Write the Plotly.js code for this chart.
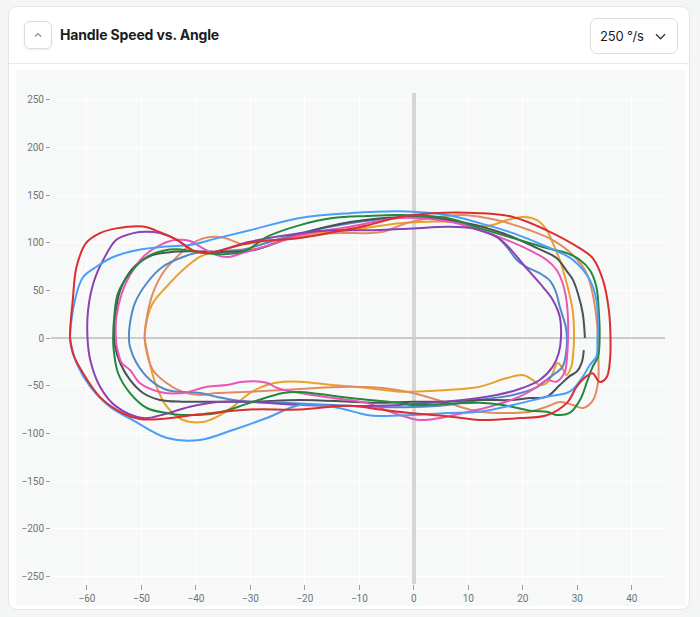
<!DOCTYPE html>
<html>
<head>
<meta charset="utf-8">
<script src="https://cdn.plot.ly/plotly-3.0.1.min.js"></script>
<style>
  html, body { margin: 0; padding: 0; width: 700px; height: 617px; background: #f4f5f5; overflow: hidden; font-family: Inter, "Noto Sans", sans-serif; }
  .card { position: absolute; left: 8px; top: 6px; width: 682px; height: 604px; background: #fff; border: 1px solid #e4e6e6; border-radius: 9px; box-sizing: border-box; }
  .divider { position: absolute; left: 0; right: 0; top: 56px; height: 1px; background: #e8e9e9; }
  .btn { position: absolute; left: 15px; top: 14px; width: 28px; height: 28px; border: 1px solid #dadcdc; border-radius: 6px; box-sizing: border-box; box-shadow: 0 1px 2px rgba(0,0,0,0.08); }
  .btn svg { position: absolute; left: 8px; top: 8px; }
  .title { position: absolute; left: 51px; top: 19px; font-size: 14px; font-weight: 700; color: #1b1d1f; letter-spacing: -0.15px; }
  .dd { position: absolute; left: 581px; top: 11px; width: 88px; height: 36px; border: 1px solid #dcdede; border-radius: 7px; box-sizing: border-box; }
  .dd span { position: absolute; left: 9px; top: 9px; font-size: 13px; color: #1b1d1f; letter-spacing: -0.2px; }
  .dd svg { position: absolute; left: 64px; top: 14px; }
  #plot { position: absolute; left: 16px; top: 70px; width: 670px; height: 536px; }
</style>
</head>
<body>
<div class="card">
  <div class="btn"><svg width="10" height="10" viewBox="0 0 10 10"><polyline points="2,6.5 5,3.5 8,6.5" fill="none" stroke="#888" stroke-width="1.1"/></svg></div>
  <div class="title">Handle Speed vs. Angle</div>
  <div class="dd"><span>250 °/s</span><svg width="11" height="7" viewBox="0 0 11 7"><polyline points="1,1.2 5.5,5.8 10,1.2" fill="none" stroke="#333" stroke-width="1.3"/></svg></div>
  <div class="divider"></div>
</div>
<div id="plot"></div>
<script>
// Handle angle (deg) and handle speed (deg/s) for each swing loop
const redAngle = [-63.1,-62.6,-61.9,-60.1,-57.6,-54.6,-49.7,-46.6,-43.5,-40.6,-38,-30.1,-20.9,-14.9,-8.6,-2.6,3.5,12.1,18.2,24.4,30.5,32.8,34.7,35.8,36.1,36,35.4,34.1,32.8,31.7,29.9,28.1,24.4,19.4,12.1,6.1,-0.2,-6.2,-11.7,-20.9,-30.1,-39.3,-46.6,-50.3,-53.4,-57.6,-60.7,-62.6,-63.1];
const redSpeed = [0,40,75,100,110,115,117,111,103,92,89,100,105,111,118,127,131,131,127,113,94,84,61,29,0,-23,-41,-46,-37,-40,-51,-68,-81,-84,-86,-82,-79,-75,-71,-75,-75,-80,-85,-85,-79,-62,-37,-16,0];

const blueAngle = [-63.1,-62.2,-60.7,-58.2,-55.2,-50.9,-45.4,-41.1,-36.2,-30.1,-20.9,-11.7,-2.6,6.1,12.1,18.2,24.4,29.2,32.3,33.5,33.8,33.7,33.5,32.3,31,28.6,24.4,18.2,12.1,6.1,-0.2,-6.2,-8.6,-14.9,-20.9,-27,-33.2,-39.3,-45.3,-51.6,-55.8,-59.4,-61.9,-62.8,-63.1];
const blueSpeed = [0,40,64,75,85,92,96,97.5,104.5,113,126,131,133,129,120.5,110,95.7,82,61,40,12,0,-19.6,-28.3,-40.6,-56.3,-61.5,-70.2,-77.3,-78.6,-80.7,-81.8,-80.7,-72,-70.2,-83.9,-96.4,-107,-104.8,-86,-72,-51,-26.5,-9,0];

const purpleAngle = [-59.9,-59.8,-58.8,-57,-54.6,-51.5,-49,-46.6,-43.5,-40.6,-38,-30.1,-20.9,-14.9,-8.6,-0.2,6.1,10.8,15.2,17.6,20.7,23.7,25.5,26.8,27,26.6,25.5,23.1,19.4,15.2,9,2.9,-2.6,-11.7,-20.9,-30.1,-36.1,-41.1,-45.7,-49.7,-54.6,-57.6,-59.4,-59.9];
const purpleSpeed = [0,29,58,82,103,110,111.4,110,103,92,89,101,110,113,113,115,116.7,115,106,94,73,53.5,40,22,0,-15.7,-30,-44,-53.5,-59.7,-65,-68,-70.2,-71.3,-70.2,-67,-67,-72,-79.7,-84,-72,-51,-23,0];

const pinkAngle = [-54.7,-54.6,-53.6,-52.1,-49.7,-46.6,-43.5,-41.1,-38.7,-36.2,-34.1,-31,-26.4,-20.9,-11.7,-2.6,6.6,12.1,17.1,21.3,24.4,26.2,27.3,28,28.3,28.3,28.1,27.7,26.2,24.4,22.6,19.4,13.9,9,4.8,1.1,-2.6,-6.2,-8.6,-14.9,-20.9,-25.1,-27,-31.4,-34.3,-38,-42.4,-46.6,-50.3,-52.1,-53.6,-54.5,-54.7];
const pinkSpeed = [0,22,47,66,85,97.5,103,101.7,94,87,85,90,97.5,108,116.7,125.8,122,113,102.7,92,81.8,71.3,57.7,40,19,0,-21,-35.6,-45.8,-44,-51.4,-61.5,-72,-78.6,-83.9,-86,-80.7,-73.4,-68,-63,-57.7,-52.4,-47,-45.8,-49.3,-51,-57.7,-56.6,-47.2,-33.5,-26.2,-9.4,0];

const greenAngle = [-55.2,-55,-54.3,-52.1,-49,-46,-43.5,-40.6,-38,-34.4,-30.7,-27,-20.9,-14.9,-8.6,-2.6,6.1,12.1,18.2,24.4,28.1,30.5,32.3,33.5,33.9,34.1,33.8,32.8,31.9,30.5,28.6,26.2,24.4,21.3,16.3,12.1,6.1,-0.2,-2.6,-11.7,-20.9,-24,-30.1,-36.1,-42.4,-45.4,-49,-52.1,-54.3,-55.1,-55.2];
const greenSpeed = [0,22,47,68,85,91.5,93,91,89,88,92,106,118.4,125.8,128,129,125.8,115.3,104.8,94.3,89,81.8,71.3,53.8,32.8,0,-19.6,-30.4,-44,-65,-78.6,-80.7,-77.3,-76.2,-70.2,-68,-69,-70.2,-68,-63,-56.6,-57.7,-68,-78.6,-80.7,-78.6,-73.4,-57.7,-36.7,-12,0];

const grayAngle = [31.2,30.8,29.9,28.6,26.8,24.4,21.3,18.2,12.1,6.1,-0.2,-6.2,-11.7,-20.9,-30.1,-39.3,-42.4,-46.6,-49.7,-52.1,-53.9,-54.9,-55,-54.9,-53.9,-51.6,-48.4,-44.8,-40.6,-34.4,-29.5,-20.9,-11.7,-2.6,6.6,15.8,23.1,26.2,28.1,29.2,30.1,31,31.4];
const graySpeed = [-12.6,-26,-35.3,-40,-49.3,-61.5,-63,-65,-65,-66.8,-66.8,-68,-66.8,-65,-66.8,-66.8,-66.8,-65,-57.7,-44,-26.2,-7.3,0,18.9,50,73,86,90,91,90.5,92,109,121.6,126.8,123.7,111,93,84,70,61,47,26,0];

const steelAngle = [-52.3,-52.1,-51.2,-49,-46.1,-42.4,-39.3,-36.2,-31.9,-28.3,-20.9,-11.7,-0.2,6.1,12.1,15.2,17.1,18.9,20.7,23.1,25,26.1,26.8,27.9,28.1,28,27.3,25,22.6,18.2,12.1,6.1,-0.2,-6.2,-14.9,-24,-30.1,-33.2,-36.1,-39.3,-42.4,-45.3,-48.4,-50.9,-52.1,-52.3];
const steelSpeed = [0,15.7,36.7,57.7,74.7,85,90,90,92,97.5,110,120.5,127,123.7,113,106,95.4,81.8,74.4,68,60,48,32.5,11.5,0,-12.6,-30,-41,-51.4,-59.7,-65,-70.2,-72.3,-72.3,-70.2,-68,-66.8,-65,-61.8,-57.7,-56.6,-54.5,-44,-26.2,-9.4,0];

const salmonAngle = [-49.4,-49,-47.9,-46.1,-43.5,-40.6,-37.4,-34.7,-31.4,-28.3,-20.9,-14.9,-8.6,-5.7,-1.3,2.9,9,15.2,21.3,25.5,29.2,31.7,32.8,33.5,33.8,33.9,33.8,32.8,31,29.2,26.8,24.4,21.3,18.2,12.1,6.1,-0.2,-5.7,-11.7,-17.8,-24,-30.1,-36.1,-39.3,-42.4,-45.4,-47.9,-49,-49.4];
const salmonSpeed = [0,22,47,68,85,99.6,106,105,98.5,101,106,110,110,111.4,120.5,125.8,129,123.7,113,102.7,87,68,47,22,0,-23,-47,-66,-73.4,-70.2,-67,-72,-77.3,-78.6,-77.3,-68,-57.7,-52.4,-51,-52.4,-54.5,-56.3,-57.7,-59.7,-56.6,-47.2,-33.5,-15.7,0];

const orangeAngle = [-49.4,-49,-47.9,-45.4,-42.4,-39.3,-36.9,-33.8,-28.3,-20.9,-11.7,-2.6,6.6,13.4,17.1,20,22.6,24.4,25.5,26.8,27.9,28.6,29.2,29.4,29.2,28.9,28,27.1,26.4,25.5,24.4,23.1,21.8,20,17.1,12.1,6.1,-0.2,-2.6,-8.6,-14.9,-20.9,-24,-27,-30.1,-33.2,-36.1,-38.7,-42.4,-45.3,-47.2,-48.4,-49,-49.4];
const orangeSpeed = [0,19,36.7,53.8,71.3,85,90,92,94.3,108,113,120.5,122,117.4,123.7,127,123.7,113.2,99.6,81.8,60.8,45,27,0,-19.6,-30,-38.8,-30,-26.2,-36.7,-47.2,-49.3,-44,-38.8,-42,-51,-54.5,-56.3,-56.3,-52.4,-49.3,-45.8,-45.8,-49.3,-57.7,-72,-82.5,-88,-86,-72.3,-51.4,-28.3,-12.6,0];

const xTicks = [-60,-50,-40,-30,-20,-10,0,10,20,30,40];
const yTicks = [-250,-200,-150,-100,-50,0,50,100,150,200,250];

const series = [
  {x: orangeAngle, y: orangeSpeed, color: '#e9a12c'},
  {x: salmonAngle, y: salmonSpeed, color: '#e38b60'},
  {x: steelAngle, y: steelSpeed, color: '#5089c6'},
  {x: grayAngle, y: graySpeed, color: '#4b5158'},
  {x: pinkAngle, y: pinkSpeed, color: '#ea55b8'},
  {x: purpleAngle, y: purpleSpeed, color: '#8b41b2'},
  {x: greenAngle, y: greenSpeed, color: '#22883a'},
  {x: blueAngle, y: blueSpeed, color: '#4a9ef7'},
  {x: redAngle, y: redSpeed, color: '#dc2e2f'}
];

const traces = series.map(s => ({
  type: 'scatter', mode: 'lines', x: s.x, y: s.y,
  line: {color: s.color, width: 2, shape: 'spline', smoothing: 1},
  hoverinfo: 'skip', showlegend: false
}));

const tickFont = {family: 'Roboto, "Liberation Sans", sans-serif', size: 10, color: '#6f7376'};

const layout = {
  width: 670, height: 536,
  margin: {l: 35, r: 21, t: 23, b: 22},
  paper_bgcolor: '#f7f9f9', plot_bgcolor: '#f7f9f9',
  showlegend: false,
  xaxis: {
    range: [-66.6, 46.1], tickvals: xTicks, ticktext: xTicks.map(v => v < 0 ? '\u2212' + Math.abs(v) : String(v)),
    showgrid: true, gridcolor: '#ffffff', gridwidth: 1,
    zeroline: true, zerolinecolor: '#d6d6d6', zerolinewidth: 4,
    showline: false, ticks: 'outside', ticklen: 5, tickcolor: '#9a9ea1', tickwidth: 1,
    tickfont: tickFont, fixedrange: true
  },
  yaxis: {
    range: [-258, 257], tickvals: yTicks, ticktext: yTicks.map(v => v < 0 ? '\u2212' + Math.abs(v) : String(v)),
    showgrid: true, gridcolor: '#ffffff', gridwidth: 1,
    zeroline: true, zerolinecolor: '#cbcbcb', zerolinewidth: 1.5,
    showline: false, ticks: 'outside', ticklen: 4, tickcolor: '#9a9ea1', tickwidth: 1,
    tickfont: tickFont, fixedrange: true
  }
};

Plotly.newPlot('plot', traces, layout, {staticPlot: true, displayModeBar: false});
</script>
</body>
</html>
